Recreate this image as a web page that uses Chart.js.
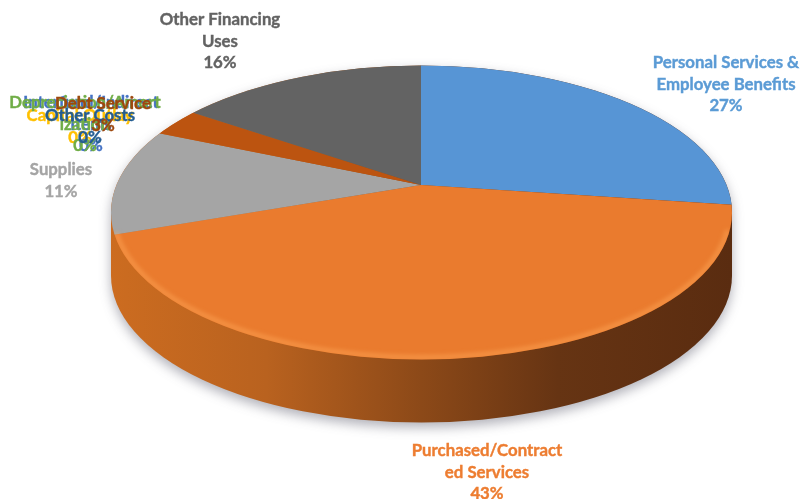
<!DOCTYPE html>
<html lang="en">
<head>
  <meta charset="UTF-8" />
  <title>Expenditure pie</title>
  <style>
    html, body { margin: 0; background: #ffffff; }
    canvas { display: block; }
  </style>
</head>
<body>
  <canvas id="pieChart" width="801" height="499"></canvas>
  <script src="https://cdn.jsdelivr.net/npm/chart.js"></script>
  <script>
    const categories = [
      ["Personal Services &", "Employee Benefits"],
      ["Purchased/Contract", "ed Services"],
      ["Supplies"],
      ["Capital Outlay"],
      ["Interfund/Indirect", "Items"],
      ["Depreciation/Amort", "ization"],
      ["Other Costs"],
      ["Debt Service"],
      ["Other Financing", "Uses"]
    ];
    const values = [27, 43, 11, 0, 0, 0, 0, 3, 16];
    const sliceColors = ["#5795D5", "#EA7B2E", "#A5A5A5", "#FFC000", "#4472C4", "#70AD47", "#255E91", "#BC5410", "#636363"];
    const labelColors = ["#5B9BD5", "#ED7D31", "#A5A5A5", "#FFC000", "#4472C4", "#70AD47", "#255E91", "#9E480E", "#636363"];

    // centre x and first line y of each data label
    const labelSpots = [[726, 63], [487, 451], [61, 170], [80, 116], [91, 103], [85, 103], [90, 116], [103, 104], [220, 20]];
    const lineGap = 21.5;

    // the pie is squashed flat, its point sits above the middle of the rim ellipse
    const rim = { x: 421.5, y: 212.5, rx: 310.5, ry: 147, depth: 63 };
    const apex = { x: 421, y: 185, r: 380, squash: 0.5 };

    function rimPath(ctx) {
      ctx.beginPath();
      ctx.ellipse(rim.x, rim.y, rim.rx, rim.ry, 0, 0, Math.PI * 2);
    }

    const flatPie = {
      id: "flatPie",
      beforeDatasetsDraw(chart) {
        const ctx = chart.ctx;
        const el = chart.getDatasetMeta(0).data[0];

        // side wall and its soft shadow
        const wall = ctx.createLinearGradient(rim.x - rim.rx, 0, rim.x + rim.rx, 0);
        wall.addColorStop(0, "#CC6C20");
        wall.addColorStop(0.25, "#B9621F");
        wall.addColorStop(0.5, "#8C4918");
        wall.addColorStop(0.72, "#663413");
        wall.addColorStop(1, "#5A2C10");
        ctx.save();
        ctx.shadowColor = "rgba(60,60,80,0.4)";
        ctx.shadowBlur = 12;
        ctx.shadowOffsetY = 5;
        ctx.fillStyle = wall;
        ctx.beginPath();
        ctx.ellipse(rim.x, rim.y + rim.depth, rim.rx, rim.ry, 0, 0, Math.PI);
        ctx.lineTo(rim.x - rim.rx, rim.y);
        ctx.ellipse(rim.x, rim.y, rim.rx, rim.ry, 0, Math.PI, Math.PI * 2);
        ctx.closePath();
        ctx.fill();
        ctx.restore();

        ctx.save();
        rimPath(ctx);
        ctx.clip();
        const k = apex.r / el.outerRadius;
        ctx.translate(apex.x, apex.y);
        ctx.scale(k, k * apex.squash);
        ctx.translate(-el.x, -el.y);
      },
      afterDatasetsDraw(chart) {
        const ctx = chart.ctx;
        ctx.restore();

        // light bevel along the front of the rim
        ctx.save();
        rimPath(ctx);
        ctx.clip();
        ctx.strokeStyle = "rgba(255,170,90,0.5)";
        ctx.lineWidth = 5;
        ctx.filter = "blur(2px)";
        ctx.beginPath();
        ctx.ellipse(rim.x, rim.y, rim.rx - 2, rim.ry - 2, 0, 0.12, Math.PI - 0.14);
        ctx.stroke();
        ctx.restore();
      },
      afterDraw(chart) {
        const ctx = chart.ctx;
        const total = values.reduce((a, b) => a + b, 0);
        ctx.save();
        ctx.font = "bold 16.8px Lato, sans-serif";
        ctx.textAlign = "center";
        ctx.textBaseline = "middle";
        ctx.lineWidth = 0.4;
        categories.forEach((lines, i) => {
          const [x, y] = labelSpots[i];
          ctx.fillStyle = labelColors[i];
          ctx.strokeStyle = labelColors[i];
          lines.concat(Math.round(values[i] / total * 100) + "%").forEach((line, n) => {
            ctx.fillText(line, x, y + n * lineGap);
            ctx.strokeText(line, x, y + n * lineGap);
          });
        });
        ctx.restore();
      }
    };

    new Chart(document.getElementById("pieChart").getContext("2d"), {
      type: "pie",
      data: {
        labels: categories.map(c => c.join(" ")),
        datasets: [{
          data: values,
          backgroundColor: sliceColors,
          borderWidth: 0,
          clip: false
        }]
      },
      options: {
        responsive: false,
        animation: false,
        plugins: {
          legend: { display: false },
          tooltip: { enabled: false }
        }
      },
      plugins: [flatPie]
    });
  </script>
</body>
</html>
